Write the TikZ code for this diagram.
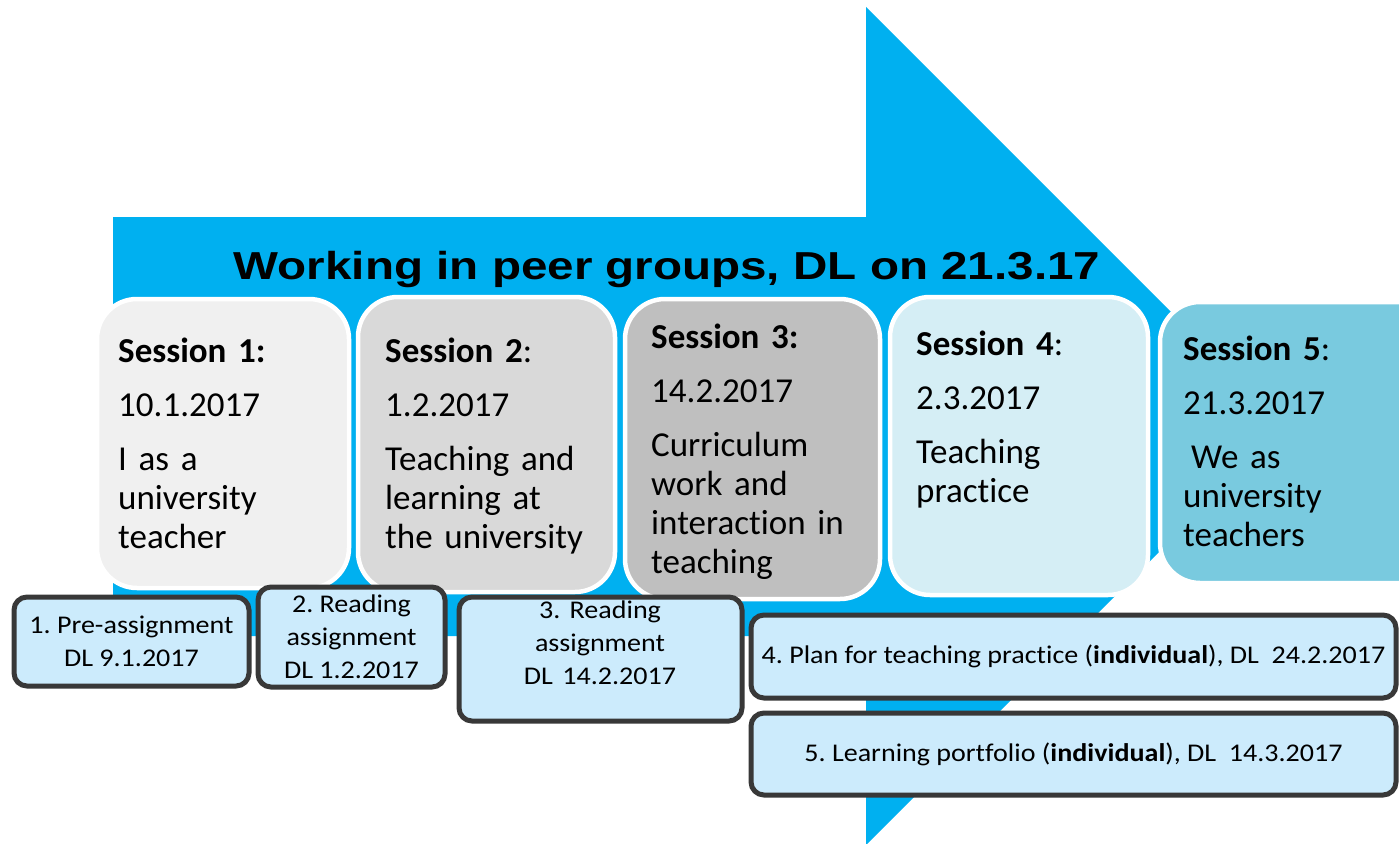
\documentclass[tikz,border=0pt]{standalone}
\usepackage{fontspec}
\setmainfont{Carlito}[Ligatures=NoCommon]
\newfontfamily\titlefont{Liberation Sans}
\frenchspacing
\definecolor{arrowblue}{HTML}{00B0F0}
\definecolor{sone}{HTML}{F0F0F0}
\definecolor{stwo}{HTML}{D9D9D9}
\definecolor{sthree}{HTML}{BFBFBF}
\definecolor{sfour}{HTML}{D5EEF5}
\definecolor{sfive}{HTML}{79CADF}
\definecolor{asgfill}{HTML}{CCEBFC}
\definecolor{asgline}{HTML}{383838}
\newcommand{\sx}[1]{\scalebox{1.1}[1]{#1}}
\begin{document}
\begin{tikzpicture}[x=1pt,y=-1pt,
  sess/.style={rounded corners=40pt, draw=white, line width=4.5pt, anchor=north west, inner sep=0pt, outer sep=0pt},
  stext/.style={anchor=base west, text width=235pt, align=left, inner sep=0pt, font=\fontsize{35}{39}\selectfont},
  asg/.style={rounded corners=13pt, draw=asgline, fill=asgfill, line width=5pt, anchor=north west, inner sep=0pt, outer sep=0pt, align=center, font=\fontsize{25.5}{33}\selectfont}]
\useasboundingbox (0,0) rectangle (1399,843);
% big arrow
\fill[arrowblue] (113,217) -- (866,217) -- (866,7) -- (1285,426) -- (866,845) -- (866,636) -- (113,636) -- cycle;
% title
\node[anchor=base, inner sep=0pt, font=\titlefont\bfseries\fontsize{39}{45}\selectfont] (title) at (667,279) {\scalebox{1.22}[1]{Working in peer groups, DL on 21.3.17}};
% session boxes
\node[sess, fill=sone, minimum width=252pt, minimum height=289pt] (s1) at (97,299) {};
\node[sess, fill=stwo, minimum width=257pt, minimum height=295pt] (s2) at (358,297) {};
\node[sess, fill=sthree, minimum width=255pt, minimum height=300pt] (s3) at (625,299) {};
\node[sess, fill=sfour, minimum width=258pt, minimum height=298pt] (s4) at (890,297) {};
\node[sess, fill=sfive, minimum width=290pt, minimum height=281pt] (s5) at (1160,302) {};
% session texts
\node[stext] (s1t) at (118,362) {\textbf{Session 1:}\\[15pt]10.1.2017\\[15pt]I as a\\university\\teacher};
\node[stext] (s2t) at (385,362) {\textbf{Session 2}:\\[15pt]1.2.2017\\[15pt]Teaching and\\learning at\\the university};
\node[stext] (s3t) at (651,348) {\textbf{Session 3:}\\[15pt]14.2.2017\\[15pt]Curriculum\\work and\\interaction in\\teaching};
\node[stext] (s4t) at (916,355) {\textbf{Session 4}:\\[15pt]2.3.2017\\[15pt]Teaching\\practice};
\node[stext] (s5t) at (1183,360) {\textbf{Session 5}:\\[15pt]21.3.2017\\[15pt]\hspace*{8pt}We as\\university\\teachers};
% assignment boxes
\node[asg, minimum width=235pt, minimum height=89pt] (a1) at (14,597) {\sx{1. Pre-assignment}\\\sx{DL 9.1.2017}};
\node[asg, minimum width=187pt, minimum height=100pt] (a2) at (258,587) {\sx{2. Reading}\\\sx{assignment}\\\sx{DL 1.2.2017}};
\node[asg, minimum width=283pt, minimum height=124pt] (a3) at (459,597) {};
\node[anchor=base, text width=270pt, align=center, inner sep=0pt, font=\fontsize{25.5}{33}\selectfont] (a3t) at (600,618) {\sx{3. Reading}\\\sx{assignment}\\\sx{DL 14.2.2017}};
\node[asg, minimum width=645pt, minimum height=83pt] (a4) at (751,615) {\sx{4. Plan for teaching practice (\textbf{individual}), DL\ \ 24.2.2017}};
\node[asg, minimum width=645pt, minimum height=82pt] (a5) at (751,713) {\sx{5. Learning portfolio (\textbf{individual}), DL\ \ 14.3.2017}};
\end{tikzpicture}
\end{document}
